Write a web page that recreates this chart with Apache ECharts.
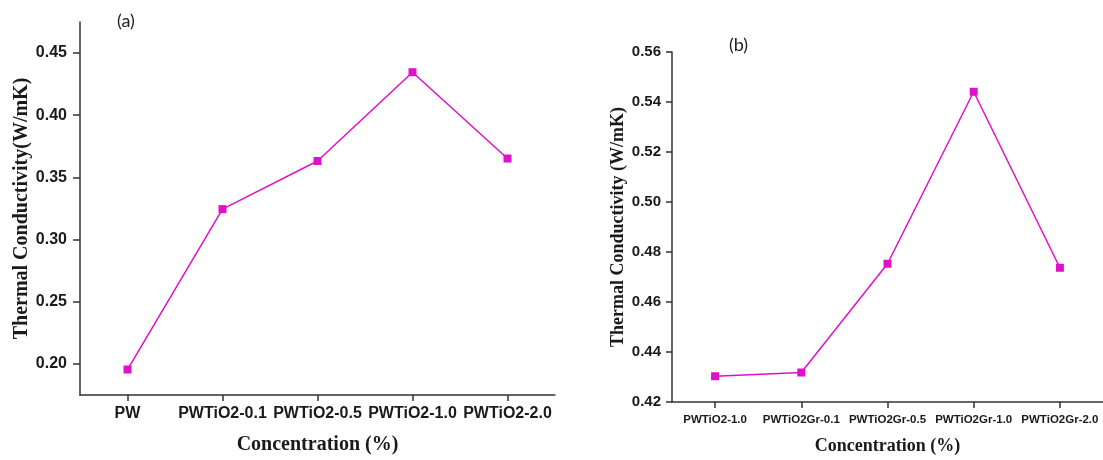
<!DOCTYPE html>
<html>
<head>
<meta charset="utf-8">
<script src="https://cdn.jsdelivr.net/npm/echarts@6/dist/echarts.min.js"></script>
<style>
html,body{margin:0;padding:0;background:#fff;}
#c{width:1103px;height:460px;}
</style>
</head>
<body>
<div id="c"></div>
<script>
// Panel (a)
const catsA = ['PW', 'PWTiO2-0.1', 'PWTiO2-0.5', 'PWTiO2-1.0', 'PWTiO2-2.0'];
const valsA = [0.1955, 0.3245, 0.3632, 0.4346, 0.3652];
const ticksA = [0.20, 0.25, 0.30, 0.35, 0.40, 0.45];
// Panel (b)
const catsB = ['PWTiO2-1.0', 'PWTiO2Gr-0.1', 'PWTiO2Gr-0.5', 'PWTiO2Gr-1.0', 'PWTiO2Gr-2.0'];
const valsB = [0.4303, 0.4318, 0.4753, 0.5441, 0.4737];
const ticksB = [0.42, 0.44, 0.46, 0.48, 0.50, 0.52, 0.54, 0.56];

const LINE = '#e010c8';
const AX = '#333333';
const TXT = '#1a1a1a';
const SANS = 'Liberation Sans, Arial, sans-serif';
const SERIF = 'Liberation Serif, Times New Roman, serif';

const chart = echarts.init(document.getElementById('c'), null, {renderer: 'canvas'});
chart.setOption({
  backgroundColor: '#ffffff',
  animation: false,
  title: [
    {text: '(a)', left: 117, top: 12, padding: 0,
     textStyle: {fontFamily: 'Lato, Open Sans, sans-serif', fontSize: 18, fontWeight: 'normal', color: '#222'}},
    {text: '(b)', left: 729, top: 36, padding: 0,
     textStyle: {fontFamily: 'Lato, Open Sans, sans-serif', fontSize: 18, fontWeight: 'normal', color: '#222'}}
  ],
  grid: [
    {left: 80, top: 22, width: 475, height: 380, containLabel: false},
    {left: 672, top: 52, width: 436, height: 351, containLabel: false}
  ],
  xAxis: [
    {type: 'category', gridIndex: 0, data: catsA, boundaryGap: true,
     name: 'Concentration (%)', nameLocation: 'middle', nameGap: 40,
     nameTextStyle: {fontFamily: SERIF, fontWeight: 'bold', fontSize: 20, color: TXT},
     axisLine: {show: true, lineStyle: {color: AX, width: 1.5}},
     axisTick: {show: true, alignWithLabel: true, length: 6, lineStyle: {color: AX, width: 1.5}},
     axisLabel: {fontFamily: SANS, fontWeight: 'bold', fontSize: 16, color: TXT, margin: 11, interval: 0},
     splitLine: {show: false}},
    {type: 'category', gridIndex: 1, data: catsB, boundaryGap: true,
     name: 'Concentration (%)', nameLocation: 'middle', nameGap: 35,
     nameTextStyle: {fontFamily: SERIF, fontWeight: 'bold', fontSize: 18, color: TXT},
     axisLine: {show: true, lineStyle: {color: AX, width: 1.5}},
     axisTick: {show: true, alignWithLabel: true, length: 6, lineStyle: {color: AX, width: 1.5}},
     axisLabel: {fontFamily: SANS, fontWeight: 'bold', fontSize: 11.5, color: TXT, margin: 12, interval: 0},
     splitLine: {show: false}}
  ],
  yAxis: [
    {type: 'value', gridIndex: 0, min: 0.175, max: 0.475,
     name: 'Thermal Conductivity(W/mK)', nameLocation: 'middle', nameGap: 45, nameRotate: 90,
     nameTextStyle: {fontFamily: SERIF, fontWeight: 'bold', fontSize: 20, color: TXT},
     axisLine: {show: true, lineStyle: {color: AX, width: 1.5}},
     axisTick: {show: true, length: 7, customValues: ticksA, lineStyle: {color: AX, width: 1.5}},
     axisLabel: {fontFamily: SANS, fontWeight: 'bold', fontSize: 16, color: TXT, margin: 13,
                 customValues: ticksA, formatter: v => v.toFixed(2)},
     splitLine: {show: false}},
    {type: 'value', gridIndex: 1, min: 0.42, max: 0.56,
     name: 'Thermal Conductivity (W/mK)', nameLocation: 'middle', nameGap: 45, nameRotate: 90,
     nameTextStyle: {fontFamily: SERIF, fontWeight: 'bold', fontSize: 18, color: TXT},
     axisLine: {show: true, lineStyle: {color: AX, width: 1.5}},
     axisTick: {show: true, length: 6, customValues: ticksB, lineStyle: {color: AX, width: 1.5}},
     axisLabel: {fontFamily: SANS, fontWeight: 'bold', fontSize: 15, color: TXT, margin: 11,
                 customValues: ticksB, formatter: v => v.toFixed(2)},
     splitLine: {show: false}}
  ],
  series: [
    {type: 'line', xAxisIndex: 0, yAxisIndex: 0, data: valsA,
     symbol: 'rect', symbolSize: 8, showAllSymbol: true,
     lineStyle: {color: LINE, width: 1.5}, itemStyle: {color: LINE}},
    {type: 'line', xAxisIndex: 1, yAxisIndex: 1, data: valsB,
     symbol: 'rect', symbolSize: 8, showAllSymbol: true,
     lineStyle: {color: LINE, width: 1.5}, itemStyle: {color: LINE}}
  ]
});
</script>
</body>
</html>
